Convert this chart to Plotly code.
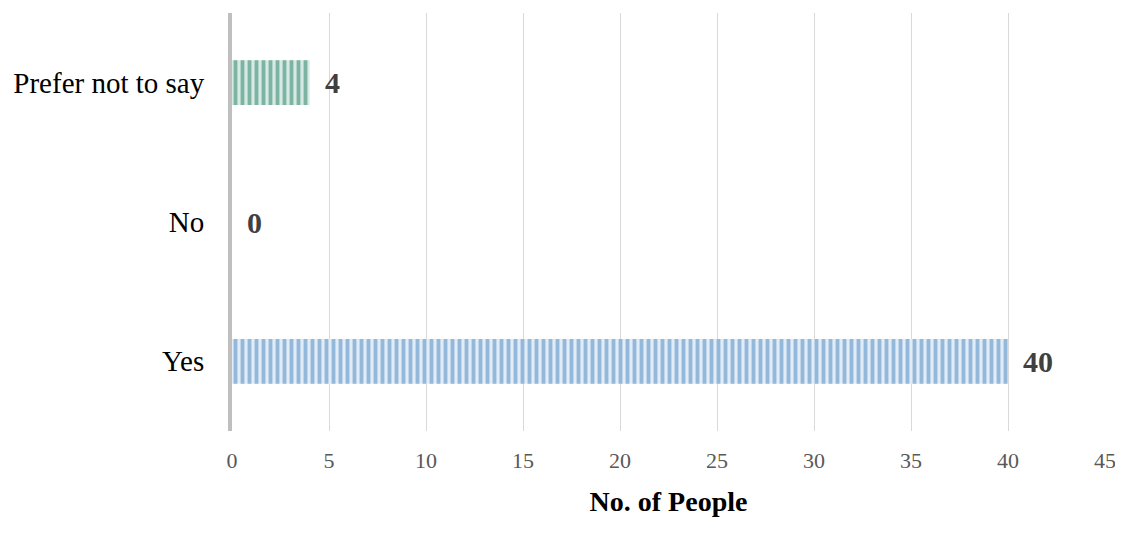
import plotly.graph_objects as go

categories = ["Yes", "No", "Prefer not to say"]
values = [40, 0, 4]
fg_colors = ["#93b8da", "#93b8da", "#7db3a2"]
bg_colors = ["#e2ecf7", "#e2ecf7", "#d7eae3"]
x_ticks = [0, 5, 10, 15, 20, 25, 30, 35, 40, 45]

fig = go.Figure()
fig.add_trace(go.Bar(
    y=categories, x=values, orientation="h", width=0.32,
    marker=dict(color=bg_colors, line=dict(width=0)),
    hoverinfo="skip",
))
fig.add_trace(go.Bar(
    y=categories, x=values, orientation="h", width=0.32,
    marker=dict(color=fg_colors, line=dict(width=0),
                pattern=dict(shape="|", size=7, solidity=0.55, fillmode="replace")),
    hoverinfo="x+y",
))

for c, v in zip(categories, values):
    fig.add_annotation(
        x=v, y=c, text=f"<b>{v}</b>", showarrow=False, xanchor="left", yanchor="middle",
        xshift=13, font=dict(family="Liberation Serif", size=30, color="#404040"),
    )

fig.update_layout(
    width=1115, height=532,
    margin=dict(l=222, r=18, t=5, b=109),
    plot_bgcolor="white", paper_bgcolor="white",
    showlegend=False, barmode="overlay",
    font=dict(family="Liberation Serif"),
)
fig.update_xaxes(
    range=[0, 45], tickvals=x_ticks, showgrid=True, gridcolor="#d9d9d9", gridwidth=1,
    zeroline=False, showline=False,
    tickfont=dict(family="Liberation Serif", size=22, color="#595959"),
    ticklabelstandoff=14,
    title=dict(text="<b>No. of People</b>", font=dict(family="Liberation Serif", size=28, color="black"), standoff=19),
)
fig.update_yaxes(
    categoryorder="array", categoryarray=categories,
    showline=True, linecolor="#bfbfbf", linewidth=4, showgrid=False, zeroline=False,
    tickfont=dict(family="Liberation Serif", size=29, color="black"),
    ticklabelstandoff=18,
)

fig.write_html("out.html")
